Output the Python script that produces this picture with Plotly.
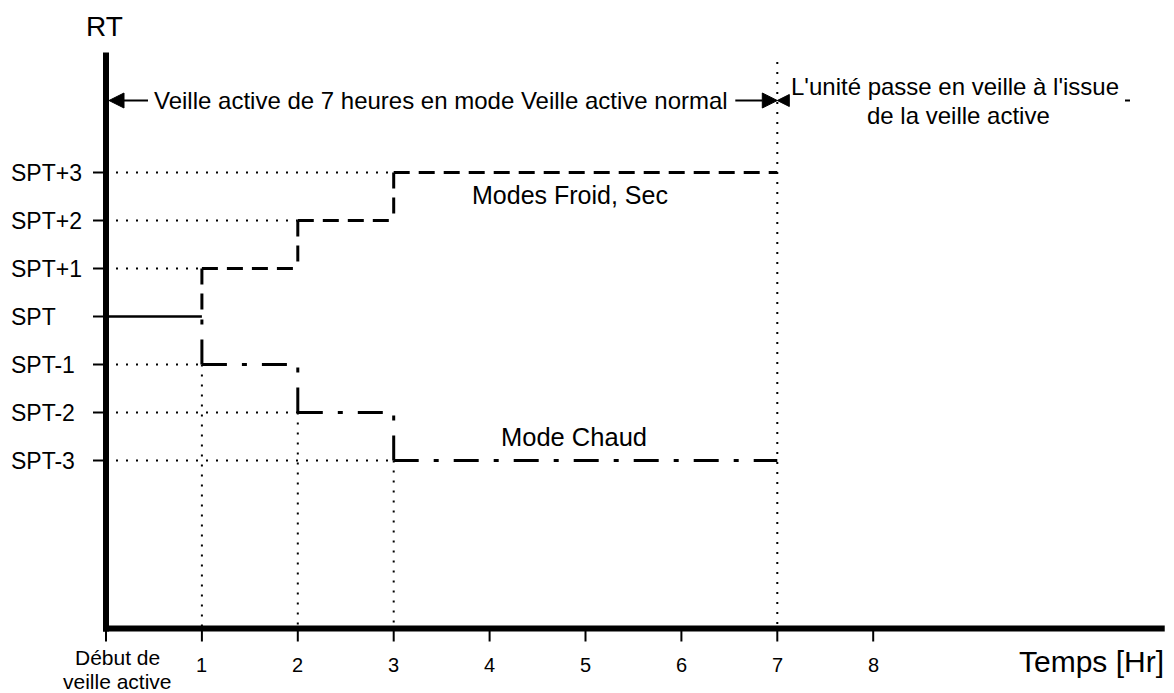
import plotly.graph_objects as go

# Time axis (hours) and setpoint offsets
hours = [0, 1, 2, 3, 4, 5, 6, 7, 8]
hour_labels = ["", "1", "2", "3", "4", "5", "6", "7", "8"]
levels = [3, 2, 1, 0, -1, -2, -3]
level_labels = ["SPT+3", "SPT+2", "SPT+1", "SPT", "SPT-1", "SPT-2", "SPT-3"]

# Step schedule: hour at which each step happens and the offset reached
step_hours = [1, 2, 3]
cool_offsets = [1, 2, 3]
heat_offsets = [-1, -2, -3]
end_hour = 7

# Canvas and scale
W, H = 1174, 693
PX_PER_HR = 95.9
PX_PER_LVL = 48.0
ORIGIN_X = 106.0     # pixel column of hour 0
SPT_Y = 316.5        # pixel row of SPT

def dx(px):
    return px / PX_PER_HR

def dy(px):
    return px / PX_PER_LVL

x_range = [-ORIGIN_X / PX_PER_HR, (W - ORIGIN_X) / PX_PER_HR]
y_range = [SPT_Y / PX_PER_LVL - H / PX_PER_LVL, SPT_Y / PX_PER_LVL]

AXIS_Y = -6.5     # time axis position
AXIS_TOP = 5.5    # top of the RT axis
AXIS_END = 11.04  # right end of the time axis
ARROW_Y = 4.5

FONT = "Liberation Sans, Arial, sans-serif"
BLACK = "#000000"

fig = go.Figure()

def add_path(xs, ys, width, dash="solid", color=BLACK):
    fig.add_trace(go.Scatter(x=xs, y=ys, mode="lines",
                             line=dict(color=color, width=width, dash=dash),
                             hoverinfo="skip", showlegend=False,
                             connectgaps=False))

# Dotted guide lines
gx, gy = [], []
for h, off in zip(step_hours, cool_offsets):
    gx += [0, h, None]
    gy += [off, off, None]
for h, off in zip(step_hours, heat_offsets):
    gx += [0, h, None, h, h, None]
    gy += [off, off, None, off, AXIS_Y, None]
gx += [end_hour, end_hour, None]
gy += [5.3, AXIS_Y, None]
add_path(gx, gy, 2, dash="2px,8px")

# Normal setpoint before the first step
add_path([0, step_hours[0]], [0, 0], 2.5)

# Cool / dry mode staircase (dashed)
cx, cy = [], []
prev = 0
for i, (h, off) in enumerate(zip(step_hours, cool_offsets)):
    nxt = step_hours[i + 1] if i + 1 < len(step_hours) else end_hour
    cx += [h, h, None, h, nxt, None]
    cy += [off, prev, None, off, off, None]
    prev = off
add_path(cx, cy, 3, dash="16px,9px")

# Heat mode staircase (dash-dot)
hx, hy = [], []
prev = 0
for i, (h, off) in enumerate(zip(step_hours, heat_offsets)):
    nxt = step_hours[i + 1] if i + 1 < len(step_hours) else end_hour
    hx += [h, h, None, h, nxt, None]
    hy += [off, prev, None, off, off, None]
    prev = off
add_path(hx, hy, 3, dash="25px,15px,5px,15px")

# Tick marks
tx, ty = [], []
for lv in levels:
    tx += [-dx(13), 0, None]
    ty += [lv, lv, None]
for h in hours:
    tx += [h, h, None]
    ty += [AXIS_Y, AXIS_Y - dy(13), None]
add_path(tx, ty, 2)

# Axes
add_path([0, 0], [AXIS_TOP, AXIS_Y - dy(3)], 6)
add_path([-dx(3), AXIS_END], [AXIS_Y, AXIS_Y], 6)

# Duration arrow lines
add_path([dx(17), dx(42)], [ARROW_Y, ARROW_Y], 2)
add_path([end_hour - dx(42), end_hour - dx(15)], [ARROW_Y, ARROW_Y], 2)
add_path([(1125 - ORIGIN_X) / PX_PER_HR, (1130 - ORIGIN_X) / PX_PER_HR],
         [ARROW_Y, ARROW_Y], 2)

def add_head(tip_x, direction, length_px, half_px):
    base = tip_x + direction * dx(length_px)
    fig.add_trace(go.Scatter(x=[tip_x, base, base, tip_x],
                             y=[ARROW_Y, ARROW_Y + dy(half_px), ARROW_Y - dy(half_px), ARROW_Y],
                             mode="lines", fill="toself", fillcolor=BLACK,
                             line=dict(color=BLACK, width=1),
                             hoverinfo="skip", showlegend=False))

add_head(dx(3), 1, 15, 7.5)
add_head(end_hour, -1, 15, 7.5)
add_head(end_hour, 1, 12, 6)

annotations = []

def text(x, y, s, size, xanchor="center", yanchor="middle", xref="x", yref="y"):
    annotations.append(dict(x=x, y=y, xref=xref, yref=yref, text=s, showarrow=False,
                            xanchor=xanchor, yanchor=yanchor,
                            font=dict(family=FONT, size=size, color=BLACK)))

# Level labels
for lv, lab in zip(levels, level_labels):
    text(-(ORIGIN_X - 9) / PX_PER_HR, lv, lab, 23, xanchor="left")

# Hour labels
for h, lab in zip(hours, hour_labels):
    if lab:
        text(h, AXIS_Y - dy(36), lab, 20)
text(dx(11), AXIS_Y - dy(29), "Début de", 21)
text(dx(11), AXIS_Y - dy(53), "veille active", 21)

# Axis titles
text(-dx(2), AXIS_TOP + dy(26), "RT", 28)
text(AXIS_END + dx(1), AXIS_Y - dy(33), "Temps [Hr]", 30, xanchor="right")

# Phase labels
text((152 - ORIGIN_X) / PX_PER_HR, ARROW_Y, "Veille active de 7 heures en mode Veille active normal", 24,
     xanchor="left")
text((955 - ORIGIN_X) / PX_PER_HR, ARROW_Y + dy(14), "L'unité passe en veille à l'issue", 24)
text((958 - ORIGIN_X) / PX_PER_HR, ARROW_Y - dy(14.5), "de la veille active", 24)

# Curve labels
text((570 - ORIGIN_X) / PX_PER_HR, 3 - dy(22), "Modes Froid, Sec", 25)
text((574 - ORIGIN_X) / PX_PER_HR, -3 + dy(24), "Mode Chaud", 25.5)

fig.update_layout(
    width=W, height=H,
    margin=dict(l=0, r=0, t=0, b=0),
    paper_bgcolor="white", plot_bgcolor="white",
    xaxis=dict(range=x_range, visible=False, fixedrange=True),
    yaxis=dict(range=y_range, visible=False, fixedrange=True),
    annotations=annotations,
    showlegend=False,
)

fig.write_html("out.html")
